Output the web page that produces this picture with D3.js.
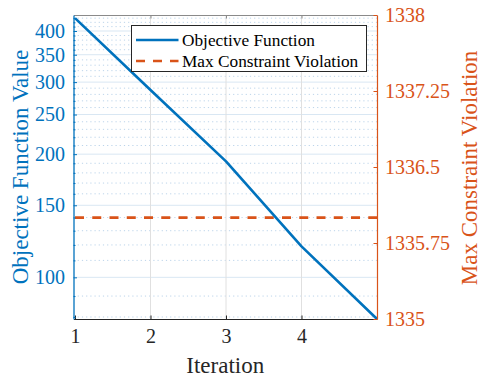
<!DOCTYPE html>
<html>
<head>
<meta charset="utf-8">
<script src="https://cdn.jsdelivr.net/npm/d3@7"></script>
<style>
  body { margin: 0; background: #fff; }
  svg { display: block; }
</style>
</head>
<body>
<svg id="chart" width="481" height="379"></svg>
<script>
// Optimisation history: objective (log axis, left) and max constraint violation (right)
const iterations = [1, 2, 3, 4, 5];
const objectiveValues = [430, 287, 192, 119, 79.1];
const constraintViolation = [1336, 1336, 1336, 1336, 1336];

const xTicks = [1, 2, 3, 4];
const leftTicks = [100, 150, 200, 250, 300, 350, 400];
const leftMinorTicks = [80, 90, 110, 120, 130, 140, 160, 170, 180, 190,
  210, 220, 230, 240, 260, 270, 280, 290, 310, 320, 330, 340,
  360, 370, 380, 390, 410, 420, 430];
const rightTicks = [1335, 1335.75, 1336.5, 1337.25, 1338];
const legendLabels = ["Objective Function", "Max Constraint Violation"];

const FONT = "Liberation Serif";
const BLUE = "#0072BD", ORANGE = "#D95319", INK = "#262626";
const plot = { left: 73.5, right: 377, top: 15, bottom: 319 };

const svg = d3.select("#chart");

const x = d3.scaleLinear().domain([0.98, 5]).range([plot.left, plot.right]);
const yL = d3.scaleLog().domain([79.1, 437.7]).range([plot.bottom, plot.top]);
const yR = d3.scaleLinear().domain([1335, 1338]).range([plot.bottom, plot.top]);

// ---- grid ----
const grid = svg.append("g");
grid.selectAll(".minor").data(leftMinorTicks).join("line")
  .attr("x1", plot.left).attr("x2", plot.right)
  .attr("y1", d => yL(d)).attr("y2", d => yL(d))
  .attr("stroke", "#bcd4ea").attr("stroke-width", 1)
  .attr("stroke-dasharray", "1.2,3");
grid.selectAll(".major").data(leftTicks).join("line")
  .attr("x1", plot.left).attr("x2", plot.right)
  .attr("y1", d => yL(d)).attr("y2", d => yL(d))
  .attr("stroke", "#d9e7f3").attr("stroke-width", 1);
grid.selectAll(".vgrid").data(xTicks.slice(1)).join("line")
  .attr("x1", d => x(d)).attr("x2", d => x(d))
  .attr("y1", plot.top).attr("y2", plot.bottom)
  .attr("stroke", "#e0e0e0").attr("stroke-width", 1);

// ---- series ----
const dashed = d3.line().x((d, i) => x(iterations[i])).y(d => yR(d));
svg.append("path").datum(constraintViolation)
  .attr("d", dashed).attr("fill", "none")
  .attr("stroke", ORANGE).attr("stroke-width", 2.6)
  .attr("stroke-dasharray", "9,8.25");

const solid = d3.line().x((d, i) => x(iterations[i])).y(d => yL(d));
svg.append("path").datum(objectiveValues)
  .attr("d", solid).attr("fill", "none")
  .attr("stroke", BLUE).attr("stroke-width", 2.6)
  .attr("stroke-linejoin", "round");

// ---- axes ----
const xAxis = d3.axisBottom(x).tickValues(xTicks).tickFormat(d3.format("d"))
  .tickSizeInner(-3.5).tickSizeOuter(0).tickPadding(10);
const gx = svg.append("g").attr("transform", `translate(0,${plot.bottom})`).call(xAxis);
gx.select(".domain").attr("stroke", INK);
gx.selectAll(".tick line").attr("stroke", INK);
gx.selectAll(".tick text").attr("fill", INK).attr("font-size", 20)
  .style("font-family", FONT).attr("dy", "0.71em");

// top box edge with ticks
const xTop = d3.axisTop(x).tickValues(xTicks.slice(1)).tickFormat("")
  .tickSizeInner(-3.5).tickSizeOuter(0);
const gt = svg.append("g").attr("transform", `translate(0,${plot.top})`).call(xTop);
gt.select(".domain").attr("stroke", "#8a8a8a");
gt.selectAll(".tick line").attr("stroke", "#8a8a8a");

// left log axis
const leftMinor = d3.axisLeft(yL).tickValues(leftMinorTicks).tickFormat("")
  .tickSizeInner(-2).tickSizeOuter(0);
const glm = svg.append("g").attr("transform", `translate(${plot.left},0)`).call(leftMinor);
glm.select(".domain").remove();
glm.selectAll(".tick line").attr("stroke", BLUE);

const leftAxis = d3.axisLeft(yL).tickValues(leftTicks).tickFormat(d3.format("d"))
  .tickSizeInner(-3.5).tickSizeOuter(0).tickPadding(9);
const gl = svg.append("g").attr("transform", `translate(${plot.left},0)`).call(leftAxis);
gl.select(".domain").attr("stroke", BLUE).attr("stroke-width", 1.3);
gl.selectAll(".tick line").attr("stroke", BLUE);
gl.selectAll(".tick text").attr("fill", BLUE).attr("font-size", 20)
  .style("font-family", FONT).attr("x", -8.5);

// right linear axis
const rightAxis = d3.axisRight(yR).tickValues(rightTicks).tickFormat(d => String(d))
  .tickSizeInner(-3.5).tickSizeOuter(0).tickPadding(8);
const gr = svg.append("g").attr("transform", `translate(${plot.right},0)`).call(rightAxis);
gr.select(".domain").attr("stroke", ORANGE).attr("stroke-width", 1.2);
gr.selectAll(".tick line").attr("stroke", ORANGE);
gr.selectAll(".tick text").attr("fill", ORANGE).attr("font-size", 20)
  .style("font-family", FONT).attr("x", 8);

// ---- axis titles ----
svg.append("text").text("Iteration")
  .attr("x", (plot.left + plot.right) / 2).attr("y", 373)
  .attr("text-anchor", "middle").attr("font-size", 23).attr("fill", INK)
  .style("font-family", FONT);
svg.append("text").text("Objective Function Value")
  .attr("transform", "translate(27.5,167) rotate(-90)")
  .attr("text-anchor", "middle").attr("font-size", 23).attr("fill", BLUE)
  .style("font-family", FONT);
svg.append("text").text("Max Constraint Violation")
  .attr("transform", "translate(476.5,168) rotate(-90)")
  .attr("text-anchor", "middle").attr("font-size", 23).attr("fill", ORANGE)
  .style("font-family", FONT);

// ---- legend ----
const legend = svg.append("g");
legend.append("rect")
  .attr("x", 131.5).attr("y", 25.5).attr("width", 235).attr("height", 46)
  .attr("fill", "#fff").attr("stroke", INK).attr("stroke-width", 1);
const legendStyles = [
  { color: BLUE, dash: null },
  { color: ORANGE, dash: "9,8" }
];
const rowY = [40, 61];
legend.selectAll(".swatch").data(legendLabels).join("line")
  .attr("x1", 136).attr("x2", 178.5)
  .attr("y1", (d, i) => rowY[i]).attr("y2", (d, i) => rowY[i])
  .attr("stroke", (d, i) => legendStyles[i].color)
  .attr("stroke-width", 2.6)
  .attr("stroke-dasharray", (d, i) => legendStyles[i].dash);
legend.selectAll(".label").data(legendLabels).join("text")
  .attr("x", 182).attr("y", (d, i) => rowY[i] + 5.8)
  .attr("font-size", 17.3).attr("fill", "#000")
  .style("font-family", FONT)
  .text(d => d);
</script>
</body>
</html>
